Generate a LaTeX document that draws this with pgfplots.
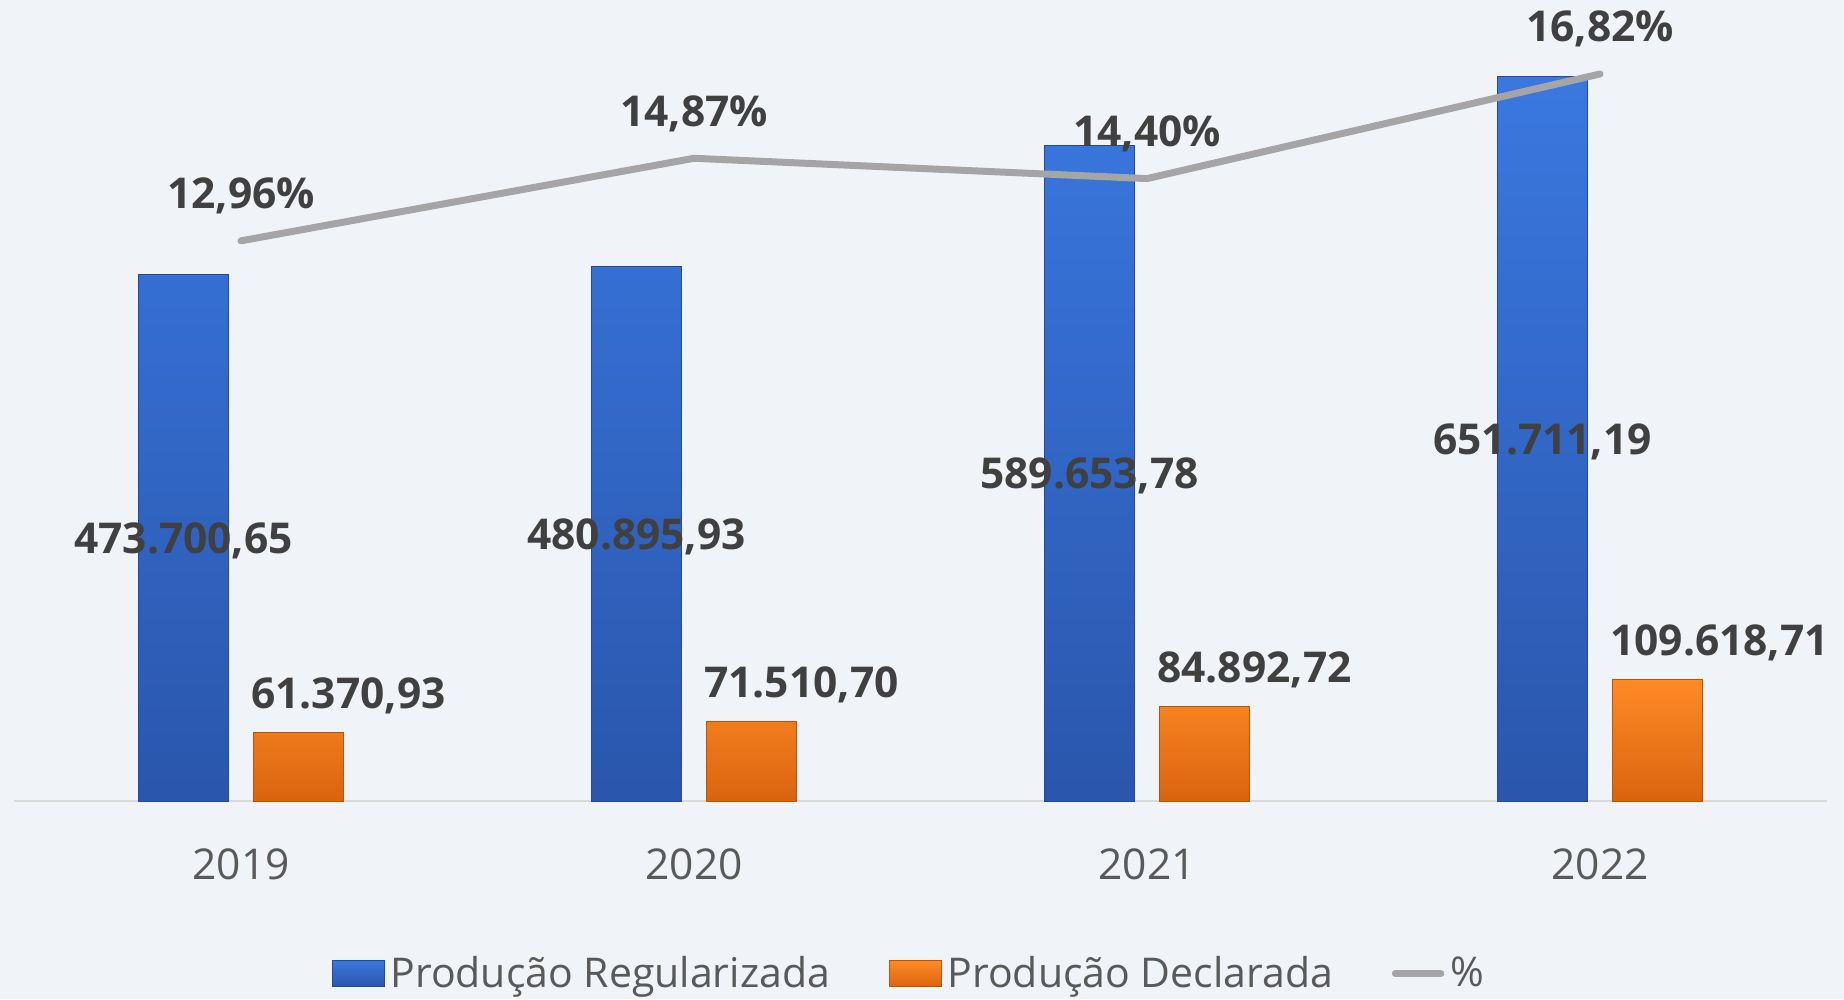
\documentclass[border=0pt]{standalone}
\usepackage{pgfplots}
\pgfplotsset{compat=1.18}
\usepackage{pgfplotstable}
\usepackage{fontspec}
\setmainfont{Open Sans}

\definecolor{bgcol}{HTML}{F0F3F8}
\definecolor{labelgray}{HTML}{404040}
\definecolor{tickgray}{HTML}{595959}
\definecolor{linegray}{HTML}{A5A5A5}
\definecolor{axisgray}{HTML}{D9D9D9}
\definecolor{bluetop}{HTML}{3A78E0}
\definecolor{bluebot}{HTML}{2A56AC}
\definecolor{bluedark}{HTML}{24499A}
\definecolor{orangetop}{HTML}{FF8A25}
\definecolor{orangebot}{HTML}{D9640F}
\definecolor{orangedark}{HTML}{B8540C}

\pgfplotstableread{
x reg dec pct reglab declab pctlab
0 473700.65 61370.93 12.96 473.700,65 61.370,93 12,96
1 480895.93 71510.70 14.87 480.895,93 71.510,70 14,87
2 589653.78 84892.72 14.40 589.653,78 84.892,72 14,40
3 651711.19 109618.71 16.82 651.711,19 109.618,71 16,82
}\datatable

\newcommand{\lblfont}{\fontsize{17}{20.4}\selectfont\bfseries}

\begin{document}
\begin{tikzpicture}
\fill[bgcol] (0pt,0pt) rectangle (737.6pt,399.6pt);
\useasboundingbox (0pt,0pt) rectangle (737.6pt,399.6pt);
\begin{axis}[
  at={(5.8pt,79.2pt)}, anchor=south west,
  width=724.8pt, height=311.2pt, scale only axis,
  xmin=-0.5, xmax=3.5, ymin=0, ymax=700000,
  axis x line*=bottom, axis y line=none,
  x axis line style={draw=axisgray, line width=1pt},
  xtick={0,1,2,3}, xticklabels={2019,2020,2021,2022},
  major tick length=0pt, ytick=\empty,
  xticklabel style={font=\fontsize{17}{20.4}\selectfont, text=tickgray, anchor=base, yshift=-31.2pt, inner sep=0pt},
  bar width=0.2,
  clip=false,
  legend columns=3,
  legend style={at={(0.494,-0.222)}, anchor=center, draw=none, fill=none,
    font=\fontsize{16.4}{19}\selectfont, text=tickgray,
    /tikz/every even column/.append style={column sep=22pt},
    /tikz/every odd column/.append style={column sep=0.8pt},
    nodes={inner sep=1.5pt}},
]
\addplot[ybar, bar shift=-0.127, draw=bluedark, line width=0.4pt, top color=bluetop, bottom color=bluebot,
  legend image code/.code={\draw[draw=bluedark, top color=bluetop, bottom color=bluebot] (0pt,-5.2pt) rectangle (20.8pt,5.2pt);}]
  table[x=x, y=reg] \datatable;
\addlegendentry{Produção Regularizada}
\addplot[ybar, bar shift=0.127, draw=orangedark, line width=0.4pt, top color=orangetop, bottom color=orangebot,
  legend image code/.code={\draw[draw=orangedark, top color=orangetop, bottom color=orangebot] (0pt,-5.2pt) rectangle (20.8pt,5.2pt);}]
  table[x=x, y=dec] \datatable;
\addlegendentry{Produção Declarada}
\addlegendimage{legend image code/.code={\draw[linegray, line width=2.8pt, line cap=round] (1.4pt,0pt) -- (19.6pt,0pt);}}
\addlegendentry{\%}
% labels centered in the blue bars
\addplot[forget plot, draw=none, mark=none, nodes near coords, point meta=explicit symbolic,
  every node near coord/.append style={font=\lblfont, text=labelgray, anchor=base, yshift=-6.1pt, inner sep=0pt}]
  table[x expr=\thisrow{x}-0.127, y expr=\thisrow{reg}/2, meta=reglab] \datatable;
% labels above the orange bars
\addplot[forget plot, draw=none, mark=none, nodes near coords, point meta=explicit symbolic,
  every node near coord/.append style={font=\lblfont, text=labelgray, anchor=base west, yshift=9.6pt, xshift=-1pt, inner sep=0pt}]
  table[x expr=\thisrow{x}+0.027, y=dec, meta=declab] \datatable;
\end{axis}
\begin{axis}[
  at={(5.8pt,79.2pt)}, anchor=south west,
  width=724.8pt, height=311.2pt, scale only axis,
  xmin=-0.5, xmax=3.5, ymin=0, ymax=18,
  axis lines=none, clip=false,
]
\addplot[linegray, line width=2.8pt, line cap=round, line join=round, mark=none,
  nodes near coords={\pgfplotspointmeta\%}, point meta=explicit symbolic,
  every node near coord/.append style={font=\lblfont, text=labelgray, anchor=base, yshift=12.8pt, inner sep=0pt}]
  table[x=x, y=pct, meta=pctlab] \datatable;
\end{axis}
\end{tikzpicture}
\end{document}
